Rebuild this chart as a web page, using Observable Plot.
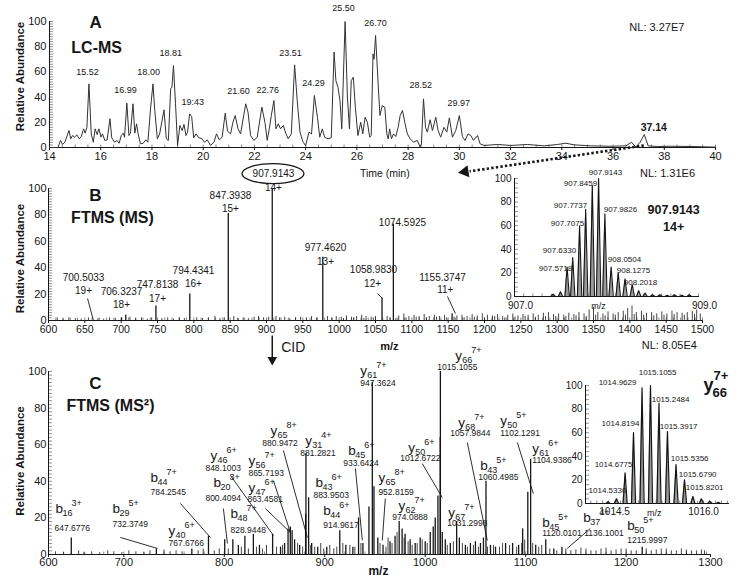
<!DOCTYPE html>
<html><head><meta charset="utf-8">
<script src="https://cdn.jsdelivr.net/npm/d3@7"></script>
<script src="https://cdn.jsdelivr.net/npm/@observablehq/plot@0.6"></script>
<style>
body{margin:0;background:#fff;}
#wrap{position:relative;width:750px;height:581px;overflow:hidden;background:#fff;}
#wrap svg{position:absolute;}
</style></head><body><div id="wrap"></div>
<script>
// ================= DATA =================
// Panel A: LC-MS chromatogram [time (min), relative abundance]
const chromA = [[14.00,0],[14.33,0],[14.43,5.6],[14.51,2.4],[14.60,4.2],[14.76,13.5],[14.83,6.9],[14.90,9.5],[14.98,8.2],[15.07,10],[15.16,6.9],[15.24,8.7],[15.33,14.8],[15.39,11.4],[15.46,16],[15.54,50.5],[15.63,10.8],[15.71,4.2],[15.78,14.8],[15.86,10.3],[15.93,14.8],[16.01,8.2],[16.07,10.8],[16.16,5.6],[16.25,6],[16.36,22.8],[16.43,7.7],[16.54,4.2],[16.64,5.6],[16.72,3.4],[16.80,9.5],[16.88,11.4],[16.93,8.2],[17.02,35.2],[17.10,9.5],[17.16,11.4],[17.26,34.7],[17.33,11.4],[17.40,18.8],[17.46,10.8],[17.55,2.9],[17.66,3.4],[17.76,6.1],[17.84,4.2],[17.95,32],[18.04,50.5],[18.11,29.4],[18.21,6.9],[18.30,10.8],[18.47,29.9],[18.56,6.9],[18.64,5.6],[18.73,46.6],[18.78,47.9],[18.84,65],[18.92,34.7],[19.00,1.6],[19.09,17.5],[19.18,13.5],[19.25,18.3],[19.33,9.5],[19.39,12.2],[19.47,26.7],[19.55,24.6],[19.63,7.7],[19.72,10.8],[19.83,7.7],[19.96,6.9],[20.05,4.2],[20.16,6.1],[20.29,1.6],[20.42,4.2],[20.52,10.8],[20.63,6.1],[20.74,8.2],[20.86,27.2],[20.95,13],[21.07,10.8],[21.16,20],[21.25,25.4],[21.36,14.8],[21.46,10.8],[21.66,34.7],[21.75,28],[21.85,9.5],[21.98,5.6],[22.11,8.2],[22.29,32],[22.41,20],[22.50,5.6],[22.58,14.8],[22.66,25.4],[22.76,37.3],[22.84,14.8],[22.93,18.8],[23.02,14.8],[23.13,17.5],[23.22,11.4],[23.32,6.9],[23.44,10.8],[23.57,65.6],[23.67,37.3],[23.78,12.2],[23.90,4.2],[24.00,1.6],[24.13,12.2],[24.23,10.8],[24.34,41.3],[24.46,24],[24.55,8.2],[24.65,14.8],[24.74,8.2],[24.87,6.9],[25.00,7.7],[25.11,75.7],[25.18,53],[25.26,47.9],[25.34,37.3],[25.41,14.8],[25.54,100],[25.63,40],[25.71,14.8],[25.78,53],[25.86,55.8],[25.94,32],[26.04,9.5],[26.15,20],[26.23,10.8],[26.32,24],[26.41,20],[26.50,8.2],[26.56,9.5],[26.63,74.3],[26.67,70],[26.73,88.9],[26.83,50.5],[26.90,25.4],[26.99,33.3],[27.09,32],[27.17,10.8],[27.22,6.9],[27.28,14.8],[27.35,6.9],[27.43,10.8],[27.52,8.7],[27.61,16],[27.69,25.4],[27.78,29.4],[27.87,20],[27.97,10.8],[28.08,6.9],[28.21,4.2],[28.36,5.6],[28.47,0.3],[28.52,2.9],[28.60,38.6],[28.68,16],[28.75,12.2],[28.86,22],[28.95,13.5],[29.08,24],[29.17,13.5],[29.27,8.2],[29.40,16],[29.51,12.2],[29.61,23.5],[29.73,8.2],[29.86,13.5],[30.00,25.4],[30.12,8.7],[30.22,5.6],[30.34,10.8],[30.45,9.5],[30.55,5.6],[30.71,9.5],[30.81,2.9],[30.97,1.6],[31.49,2.4],[32.01,1.6],[32.66,2.4],[33.31,1.3],[33.83,2.4],[34.16,3.4],[34.48,2.1],[35.13,1.3],[35.92,1],[36.50,1.3],[36.72,4.2],[36.89,0.3],[37.06,4.2],[37.22,10.3],[37.37,1.3],[37.74,0.8],[38.26,1],[39.04,0.8],[40.00,0.3]];
const aTicks = [14,16,18,20,22,24,26,28,30,32,34,36,38,40];
const yTicks = [0,20,40,60,80,100];
const aPeakLabels = [
  {t:"15.52",x:15.48,y:59.5},{t:"16.99",x:16.97,y:45.2},{t:"18.00",x:17.87,y:59.5},{t:"18.81",x:18.73,y:74.6},
  {t:"19:43",x:19.59,y:35.7},{t:"21.60",x:21.38,y:44.4},{t:"22.76",x:22.52,y:45.2},{t:"23.51",x:23.41,y:74.6},
  {t:"24.29",x:24.31,y:50.8},{t:"25.50",x:25.48,y:111},{t:"26.70",x:26.73,y:98.4},{t:"28.52",x:28.49,y:49.2},
  {t:"29.97",x:29.98,y:34.9}
];

// Panel B: FTMS (MS) full scan [m/z, relative abundance]
const msB = [[700.5033,2],[706.3237,4],[747.8138,11],[794.4341,20],[847.3938,81],[907.9143,100],[977.4620,48],[1058.9830,17],[1074.5925,73],[1155.3747,5]];
const noiseB = [[612,2],[620,1],[628,2],[637,1.5],[645,1],[655,2],[668,1.5],[676,1],[684,2],[692,1.5],[712,2.5],[720,1.5],[728,2],[736,1],[742,2],[756,1.5],[764,2],[772,1],[780,2],[787,1.5],[804,2],[812,1.5],[820,2],[829,3],[836,1.5],[842,2],[855,3],[861,1.5],[868,2],[875,1.5],[883,2.5],[889,3],[896,2],[903,2.5],[913,3],[918,2],[925,2.5],[932,1.5],[940,2],[947,2.5],[955,2],[962,3],[969,2],[984,3],[990,2],[996,3],[1003,2.5],[1010,3.5],[1017,2.5],[1024,3],[1031,4],[1037,3],[1044,2.5],[1050,3],[1066,3],[1082,3.5],[1089,5],[1096,3],[1103,4],[1110,3],[1117,4.5],[1124,3],[1131,4],[1138,3],[1145,4],[1162,3.5],[1169,4],[1176,3],[1183,4.5],[1190,3.5],[1197,5],[1204,4],[1211,3.5],[1218,4.5],[1225,3],[1232,4],[1239,5],[1246,3.5],[1253,4.5],[1260,4],[1267,5],[1274,4],[1281,5.5],[1288,6],[1295,4.5],[1302,5],[1309,4],[1316,5.5],[1323,4.5],[1330,6],[1337,5],[1344,8],[1350,10],[1356,6],[1363,5],[1370,6.5],[1377,5],[1384,6],[1391,7],[1397,9],[1403,11],[1409,6],[1416,7],[1423,5.5],[1430,6],[1437,5],[1444,6.5],[1451,5],[1458,7],[1465,6],[1472,5.5],[1479,6],[1486,7],[1492,8],[1497,5],
  [1006,1.5],[1020,2],[1034,1.5],[1047,2],[1070,2],[1078,1.5],[1092,2],[1106,2.5],[1120,2],[1134,2.5],[1148,2],[1158,2.5],[1172,2],[1186,2.5],[1200,2],[1214,3],[1228,2],[1242,2.5],[1256,3],[1270,2.5],[1284,3],[1298,3],[1312,3],[1326,3.5],[1340,3],[1353,4],[1366,3.5],[1380,4],[1394,4],[1406,4.5],[1419,4],[1433,3.5],[1447,4],[1461,4.5],[1475,4],[1489,4.5]];
const bTicks = [600,650,700,750,800,850,900,950,1000,1050,1100,1150,1200,1250,1300,1350,1400,1450,1500];
const bLabels = [
  {t:"700.5033",x:648.2,y:32.6},{t:"19+",x:648.2,y:22.7},
  {t:"706.3237",x:700.5,y:22},{t:"18+",x:700.5,y:12.1},
  {t:"747.8138",x:750,y:27.3},{t:"17+",x:750,y:16.7},
  {t:"794.4341",x:799.5,y:37.9},{t:"16+",x:799.5,y:28},
  {t:"847.3938",x:850.4,y:94.7},{t:"15+",x:850.4,y:84.8},
  {t:"907.9143",x:909.6,y:111.4},{t:"14+",x:909.6,y:100.8},
  {t:"977.4620",x:981.2,y:55.3},{t:"13+",x:981.2,y:44.7},
  {t:"1058.9830",x:1047.2,y:38.6},{t:"12+",x:1046,y:28},
  {t:"1074.5925",x:1087.1,y:74.2},
  {t:"1155.3747",x:1142.2,y:32.6},{t:"11+",x:1146,y:23.5}
];
const bLeaders = [{x1:653.7,y1:16.7,x2:661.9,y2:0},{x1:1052.7,y1:20.5,x2:1058.98,y2:17},{x1:1149,y1:18.2,x2:1160,y2:5.3}];

// Panel B inset: isotope cluster of 907.9143 (14+)
const isoB = [[907.42,2],[907.50,4],[907.5718,25],[907.6330,33],[907.7075,60],[907.7737,74],[907.8459,94],[907.9143,100],[907.9826,70],[908.0504,25],[908.1275,20],[908.2018,15],[908.28,10],[908.35,5],[908.42,3],[908.50,1.5],[908.58,1.5],[908.66,1],[908.74,1.5],[908.82,1],[908.90,1.5]];
const isoBLabels = [{t:"907.9143",x:907.989,y:105},{t:"907.8459",x:907.717,y:95.8},{t:"907.7737",x:907.609,y:77.1},{t:"907.9826",x:908.152,y:73.7},{t:"907.7075",x:907.576,y:61.9},{t:"907.6330",x:907.489,y:39},{t:"907.5718",x:907.446,y:23.7},{t:"908.0504",x:908.196,y:31.4},{t:"908.1275",x:908.293,y:22},{t:"908.2018",x:908.37,y:11.9}];

// Panel C: FTMS (MS2) CID spectrum [m/z, relative abundance]
const msC = [[647.6776,9],[732.3749,3],[767.6766,3],[784.2545,10],[800.4094,8],[808.5,8],[814,5],[820.5,10],[828.9448,11],[835,5],[848.1003,11],[856,4],[860,6],[863.4581,14],[865.7193,15],[867.5,13],[870,8],[875,5],[880.9472,22],[881.2821,55],[883.9503,31],[887,6],[893,4],[902,4],[914.9617,13],[921,5],[928,4],[933.6424,20],[938,6],[944,26],[947.3624,94],[949,37],[952.8159,9],[958,5],[965,7],[970,10],[974.0888,18],[977,14],[980,11],[985,8],[990,6],[995,9],[1000,7],[1005,12],[1008,15],[1010,20],[1012.6722,32],[1014.9629,64],[1015.1055,100],[1017,12],[1020,8],[1025,6],[1031.2998,18],[1034,9],[1040,5],[1045,6],[1050,7],[1055,6],[1057.9844,9],[1060.4985,40],[1065,5],[1070,4],[1080,6],[1087,6],[1093,5],[1097,14],[1102.1291,34],[1104.9386,52],[1110,5],[1120.0101,8],[1128,3],[1136.1001,4],[1215.9997,4]];
const noiseC = [[632,1.5],[640,1],[655,2],[661,1],[668,1.5],[676,1],[684,2],[690,1.5],[698,1],[705,2],[712,1.5],[720,1],[726,2],[740,2.5],[746,1.5],[752,2],[758,1.5],[774,2],[779,3],[790,2],[795,3],[804,3],[817,4],[824,3],[832,4],[838,3],[842,5],[852,4],[858,5],[873,6],[878,4],[886,5],[890,4],[896,6],[899,3],[905,5],[909,3],[912,4],[918,6],[925,5],[930,4],[936,6],[955,6],[961,4],[963,9],[967,6],[972,12],[979,9],[983,7],[987,5],[992,6],[997,8],[1002,6],[1022,5],[1028,7],[1037,6],[1042,4],[1048,5],[1053,4],[1062,4],[1068,5],[1074,4],[1077,6],[1084,5],[1091,4],[1096,6],[1099,8],[1107,6],[1113,4],[1116,5],[1124,3],[1131,2],[1140,3],[1145,2],[1150,2.5],[1155,3.5],[1160,3],[1165,2],[1170,2],[1175,3],[1180,3.5],[1185,2],[1190,2.5],[1195,3],[1200,3],[1205,2],[1210,2],[1220,3],[1225,2],[1230,2.5],[1235,3],[1240,3],[1245,2],[1250,2],[1255,3],[1260,2.5],[1265,2],[1270,2],[1275,2.5],[1278,2]];
const cTicks = [625,700,800,900,1000,1100,1200,1284];
const cTickText = new Map([[625,"600"],[1284,"1300"]]);
const ionsC = [
  {ion:"b",sub:"16",sup:"3+",mz:"647.6776",ix:632.0,iy:25.1,mx:631.0,my:14.2},
  {ion:"b",sub:"29",sup:"5+",mz:"732.3749",ix:688.7,iy:25.1,mx:688.7,my:16.4},
  {ion:"y",sub:"40",sup:"6+",mz:"767.6766",ix:744.4,iy:13.1,mx:744.4,my:6.0},
  {ion:"b",sub:"44",sup:"7+",mz:"784.2545",ix:726.5,iy:42.1,mx:726.5,my:33.9},
  {ion:"b",sub:"20",sup:"3+",mz:"800.4094",ix:789.2,iy:39.3,mx:781.2,my:30.6},
  {ion:"b",sub:"48",sup:"7+",mz:"828.9448",ix:806.1,iy:22.4,mx:806.1,my:13.1},
  {ion:"y",sub:"46",sup:"6+",mz:"848.1003",ix:786.2,iy:54.1,mx:781.2,my:47.0},
  {ion:"y",sub:"56",sup:"7+",mz:"865.7193",ix:824.0,iy:51.4,mx:824.0,my:44.3},
  {ion:"y",sub:"47",sup:"6+",mz:"863.4581",ix:824.0,iy:36.6,mx:823.0,my:30.1},
  {ion:"y",sub:"65",sup:"8+",mz:"880.9472",ix:845.9,iy:67.8,mx:837.9,my:60.7},
  {ion:"y",sub:"31",sup:"4+",mz:"881.2821",ix:880.7,iy:62.3,mx:875.7,my:55.2},
  {ion:"b",sub:"43",sup:"6+",mz:"883.9503",ix:890.7,iy:39.3,mx:888.7,my:32.2},
  {ion:"b",sub:"44",sup:"6+",mz:"914.9617",ix:898.6,iy:24.0,mx:898.6,my:15.8},
  {ion:"b",sub:"45",sup:"6+",mz:"933.6424",ix:923.5,iy:56.8,mx:918.5,my:49.7},
  {ion:"y",sub:"61",sup:"7+",mz:"947.3624",ix:935.4,iy:100.5,mx:935.4,my:93.4},
  {ion:"y",sub:"66",sup:"7+",mz:"1015.1055",ix:1030.0,iy:108.7,mx:1012.1,my:102.5},
  {ion:"y",sub:"65",sup:"8+",mz:"952.8159",ix:953.4,iy:42.1,mx:953.4,my:33.9},
  {ion:"y",sub:"62",sup:"7+",mz:"974.0888",ix:973.3,iy:26.8,mx:967.3,my:20.2},
  {ion:"y",sub:"50",sup:"6+",mz:"1012.6722",ix:983.2,iy:58.5,mx:975.2,my:52.5},
  {ion:"y",sub:"67",sup:"7+",mz:"1031.2998",ix:1023.0,iy:23.0,mx:1022.0,my:16.9},
  {ion:"y",sub:"68",sup:"7+",mz:"1057.9844",ix:1033.0,iy:72.1,mx:1025.0,my:66.1},
  {ion:"y",sub:"50",sup:"5+",mz:"1102.1291",ix:1074.8,iy:73.2,mx:1074.8,my:66.1},
  {ion:"b",sub:"43",sup:"5+",mz:"1060.4985",ix:1054.9,iy:48.6,mx:1052.9,my:42.1},
  {ion:"y",sub:"61",sup:"6+",mz:"1104.9386",ix:1106.6,iy:57.9,mx:1106.6,my:51.4},
  {ion:"b",sub:"45",sup:"5+",mz:"1120.0101",ix:1116.5,iy:17.5,mx:1116.5,my:11.5},
  {ion:"b",sub:"37",sup:"4+",mz:"1136.1001",ix:1157.3,iy:20.2,mx:1158.3,my:11.5},
  {ion:"b",sub:"50",sup:"5+",mz:"1215.9997",ix:1201.1,iy:15.8,mx:1201.1,my:7.7}
];
const cLeaders = [
  {x1:696.6,y1:9.3,x2:733.5,y2:3.3},{x1:756.3,y1:27.9,x2:786.2,y2:9.3},{x1:799.1,y1:25.1,x2:803.1,y2:6.0},
  {x1:806.1,y1:43.2,x2:848.9,y2:10.4},{x1:848.9,y1:40.4,x2:865.8,y2:12},{x1:840.9,y1:25.1,x2:865.8,y2:12},
  {x1:858.8,y1:56.8,x2:882.7,y2:9.3},{x1:930.5,y1:47,x2:937.4,y2:7.7},{x1:960.3,y1:30.6,x2:957.3,y2:7.7},
  {x1:997.1,y1:49.7,x2:1017,y2:31.1},{x1:1041.9,y1:61.2,x2:1061.8,y2:7.7},{x1:1091.7,y1:61.2,x2:1107.6,y2:33.3},
  {x1:1164.3,y1:14.2,x2:1141.4,y2:3.3}
];

// Panel C inset: isotope cluster of y66 (7+)
const isoC = [[1014.39,1.5],[1014.5330,4],[1014.6775,26],[1014.8194,60],[1014.9629,98],[1015.1055,100],[1015.2484,85],[1015.3917,61],[1015.5356,33],[1015.6790,20],[1015.8201,6],[1015.963,4],[1016.106,2],[1016.25,1]];
const isoCLabels = [{t:"1015.1055",x:1015.225,y:111},{t:"1014.9629",x:1014.55,y:102.5},{t:"1015.2484",x:1015.444,y:88},{t:"1014.8194",x:1014.60,y:67.8},{t:"1015.3917",x:1015.58,y:65.3},{t:"1014.6775",x:1014.483,y:33},{t:"1015.5356",x:1015.765,y:38},{t:"1015.6790",x:1015.90,y:24.6},{t:"1015.8201",x:1016.018,y:13.6},{t:"1014.5330",x:1014.38,y:11}];

// ================= DRAWING =================
const SANS = "'Liberation Sans', Arial, Helvetica, sans-serif";
const NARROW = "'Liberation Sans Narrow', 'Arial Narrow', 'Liberation Sans', sans-serif";
const INK = "#161616";
const wrap = document.getElementById("wrap");
function place(svg, left, top) { svg.style.left = left + "px"; svg.style.top = top + "px"; wrap.appendChild(svg); }
function baseStyle() { return {background: "transparent", fontFamily: SANS, fontSize: "11px", color: INK, overflow: "visible"}; }
function profile(peaks, hw, lo, hi) {
  const pts = [[lo, 0]];
  for (const [m, h] of [...peaks].sort((a, b) => a[0] - b[0])) pts.push([m - hw, 0], [m, h], [m + hw, 0]);
  pts.push([hi, 0]);
  return pts;
}
const yMinor = d3.range(0, 101, 2);
function frameAxes(xmin, fw, fh, xMinor, yMinorTicks) {
  return [
    Plot.ruleY(yMinorTicks, {insetRight: fw - 4, stroke: "#666", strokeWidth: 0.7}),
    Plot.ruleX(xMinor, {insetTop: fh - 2.5, stroke: "#555", strokeWidth: 0.7}),
    Plot.ruleX([xmin], {stroke: INK, strokeWidth: 1}),
    Plot.ruleY([0], {stroke: INK, strokeWidth: 1})
  ];
}
function relAb(dx, dy) {
  return Plot.text(["Relative Abundance"], {frameAnchor: "left", textAnchor: "middle", rotate: -90, dx, dy, fontWeight: "bold", fontSize: 11.5});
}

// ---- Panel A ----
{
  const W = 750, H = 185, ml = 49, mr = 35, mt = 21, mb = 38;
  const fw = W - ml - mr, fh = H - mt - mb;
  const p = Plot.plot({
    width: W, height: H, marginLeft: ml, marginRight: mr, marginTop: mt, marginBottom: mb,
    style: baseStyle(),
    x: {domain: [14, 40]}, y: {domain: [0, 100]},
    marks: [
      ...frameAxes(14, fw, fh, d3.range(14, 40.01, 0.5), yMinor),
      Plot.axisY({ticks: yTicks, tickSize: 0, tickPadding: 3, label: null, fontSize: 11}),
      Plot.axisX({ticks: aTicks, tickSize: 3, tickPadding: 2, label: null, fontSize: 11}),
      Plot.line(chromA, {x: d => d[0], y: d => d[1], stroke: "#333", strokeWidth: 1}),
      Plot.text(aPeakLabels, {x: "x", y: "y", text: "t", fontSize: 9}),
      Plot.text(["37.14"], {x: 37.59, y: 15.9, fontSize: 10.5, fontWeight: "bold"}),
      Plot.text(["NL: 3.27E7"], {x: 37.71, y: 95.2, fontSize: 11}),
      Plot.text(["A"], {x: 15.8, y: 99.2, fontSize: 17, fontWeight: "bold"}),
      Plot.text(["LC-MS"], {x: 15.84, y: 79.4, fontSize: 16, fontWeight: "bold"}),
      Plot.text(["Time (min)"], {x: 27.09, y: -20.6, fontSize: 10.5}),
      relAb(-29, -8),
      Plot.link([{x1: 37.2, y1: 1.6, x2: 30.4, y2: -18.9}], {x1: "x1", y1: "y1", x2: "x2", y2: "y2", stroke: INK, strokeWidth: 2.6, strokeDasharray: "2.4,2.2"}),
      Plot.dot([{x: 30.22, y: -19.2}], {x: "x", y: "y", symbol: "triangle", r: 4.5, fill: INK, stroke: "none", rotate: 261})
    ]
  });
  place(p, 0, 0);
}

// ---- Panel B ----
{
  const W = 750, H = 220, ml = 48, mr = 48, mt = 38, mb = 50;
  const fw = W - ml - mr, fh = H - mt - mb;
  const p = Plot.plot({
    width: W, height: H, marginLeft: ml, marginRight: mr, marginTop: mt, marginBottom: mb,
    style: baseStyle(),
    x: {domain: [600, 1500]}, y: {domain: [0, 100]},
    marks: [
      ...frameAxes(600, fw, fh, d3.range(600, 1500.1, 10), yMinor),
      Plot.axisY({ticks: yTicks, tickSize: 0, tickPadding: 2, label: null, fontSize: 11}),
      Plot.axisX({ticks: bTicks, tickFormat: d => String(d), tickSize: 3, tickPadding: 2, label: null, fontSize: 10.5}),
      Plot.ruleX(noiseB, {x: d => d[0], y1: 0, y2: d => d[1], stroke: INK, strokeWidth: 0.8}),
      Plot.ruleX(msB, {x: d => d[0], y1: 0, y2: d => d[1], stroke: INK, strokeWidth: 1.3}),
      Plot.link(bLeaders, {x1: "x1", y1: "y1", x2: "x2", y2: "y2", stroke: INK, strokeWidth: 0.9}),
      Plot.text(bLabels, {x: "x", y: "y", text: "t", fontSize: 10}),
      Plot.text(["NL: 1.31E6"], {x: 1451.8, y: 111.4, fontSize: 11}),
      Plot.text(["B"], {x: 664.7, y: 94.7, fontSize: 17, fontWeight: "bold"}),
      Plot.text(["FTMS (MS)"], {x: 688, y: 78, fontSize: 16, fontWeight: "bold"}),
      Plot.text(["m/z"], {x: 1069, y: -19.7, fontSize: 11, fontWeight: "bold"}),
      relAb(-28, 4),
      Plot.link([{x1: 907.9143, y1: -11.4, x2: 907.9143, y2: -29}], {x1: "x1", y1: "y1", x2: "x2", y2: "y2", stroke: INK, strokeWidth: 1.5}),
      Plot.dot([{x: 907.9143, y: -29.8}], {x: "x", y: "y", symbol: "triangle", r: 3.6, fill: INK, stroke: "none", rotate: 180}),
      Plot.text(["CID"], {x: 907.9143, y: -20.5, dx: 9, textAnchor: "start", fontSize: 14})
    ]
  });
  const sx = p.scale("x"), sy = p.scale("y");
  d3.select(p).append("ellipse")
    .attr("cx", sx.apply(909.6)).attr("cy", sy.apply(110.9))
    .attr("rx", 31).attr("ry", 10).attr("fill", "none").attr("stroke", INK).attr("stroke-width", 1.3);
  place(p, 0, 150);
}

// ---- Panel B inset ----
{
  const W = 240, H = 160, ml = 34, mr = 22, mt = 18, mb = 24;
  const fw = W - ml - mr, fh = H - mt - mb;
  const prof = profile(isoB, 0.024, 907.3, 909);
  const p = Plot.plot({
    width: W, height: H, marginLeft: ml, marginRight: mr, marginTop: mt, marginBottom: mb,
    style: baseStyle(),
    x: {domain: [907, 909]}, y: {domain: [0, 100]},
    marks: [
      ...frameAxes(907, fw, fh, d3.range(907, 909.001, 0.1), d3.range(0, 101, 4)),
      Plot.axisY({ticks: yTicks, tickSize: 0, tickPadding: 3, label: null, fontSize: 10}),
      Plot.axisX({ticks: [907, 909], tickFormat: d3.format(".1f"), tickSize: 0, tickPadding: 5, dx: 6, label: null, fontSize: 10}),
      Plot.areaY(prof, {x: d => d[0], y: d => d[1], fill: "#9a9a9a"}),
      Plot.line(prof, {x: d => d[0], y: d => d[1], stroke: INK, strokeWidth: 1.1}),
      Plot.text(isoBLabels, {x: "x", y: "y", text: "t", fontSize: 8}),
      Plot.text(["907.9143"], {x: 908.73, y: 73.7, fontSize: 12.5, fontWeight: "bold"}),
      Plot.text(["14+"], {x: 908.73, y: 59.3, fontSize: 12.5, fontWeight: "bold"}),
      Plot.text(["m/z"], {x: 907.913, y: -8.5, fontSize: 9})
    ]
  });
  place(p, 480, 160);
}

// ---- Panel C ----
{
  const W = 750, H = 251, ml = 48, mr = 40, mt = 41, mb = 27;
  const fw = W - ml - mr, fh = H - mt - mb;
  const ionFont = {fontFamily: NARROW, textAnchor: "start"};
  const p = Plot.plot({
    width: W, height: H, marginLeft: ml, marginRight: mr, marginTop: mt, marginBottom: mb,
    style: baseStyle(),
    x: {domain: [625, 1284]}, y: {domain: [0, 100]},
    marks: [
      ...frameAxes(625, fw, fh, d3.range(640, 1284, 20), yMinor),
      Plot.axisY({ticks: yTicks, tickSize: 0, tickPadding: 2, label: null, fontSize: 11}),
      Plot.axisX({ticks: cTicks, tickFormat: d => cTickText.get(d) ?? String(d), tickSize: 3, tickPadding: 1, label: null, fontSize: 11}),
      Plot.ruleX(noiseC, {x: d => d[0], y1: 0, y2: d => d[1], stroke: INK, strokeWidth: 0.8}),
      Plot.ruleX(msC, {x: d => d[0], y1: 0, y2: d => d[1], stroke: INK, strokeWidth: 1.3}),
      Plot.link(cLeaders, {x1: "x1", y1: "y1", x2: "x2", y2: "y2", stroke: INK, strokeWidth: 0.9}),
      Plot.text(ionsC, {x: "ix", y: "iy", text: "ion", fontSize: 13.5, ...ionFont}),
      Plot.text(ionsC, {x: "ix", y: "iy", text: "sub", fontSize: 9, dx: 7, dy: 5, ...ionFont}),
      Plot.text(ionsC, {x: "ix", y: "iy", text: "sup", fontSize: 9, dx: 16, dy: -5, ...ionFont}),
      Plot.text(ionsC, {x: "mx", y: "my", text: "mz", fontSize: 8.5, ...ionFont}),
      Plot.text(["NL: 8.05E4"], {x: 1243, y: 114.2, fontSize: 11}),
      Plot.text(["C"], {x: 671.8, y: 93.4, fontSize: 17, fontWeight: "bold"}),
      Plot.text(["FTMS (MS²)"], {x: 686.7, y: 81.4, fontSize: 16, fontWeight: "bold"}),
      Plot.text(["m/z"], {x: 953.4, y: -9.3, fontSize: 12, fontWeight: "bold"}),
      relAb(-28, -2)
    ]
  });
  place(p, 0, 330);
}

// ---- Panel C inset ----
{
  const W = 200, H = 180, ml = 35, mr = 22, mt = 35, mb = 27;
  const fw = W - ml - mr, fh = H - mt - mb;
  const prof = profile(isoC, 0.035, 1014.01, 1016.42);
  const p = Plot.plot({
    width: W, height: H, marginLeft: ml, marginRight: mr, marginTop: mt, marginBottom: mb,
    style: baseStyle(),
    x: {domain: [1014.01, 1016.42]}, y: {domain: [0, 100]},
    marks: [
      ...frameAxes(1014.01, fw, fh, d3.range(1014.1, 1016.42, 0.1), d3.range(0, 101, 4)),
      Plot.axisY({ticks: yTicks, tickSize: 0, tickPadding: 3, label: null, fontSize: 10}),
      Plot.axisX({ticks: [1014.5, 1016.0], tickFormat: d3.format(".1f"), tickSize: 0, tickPadding: 4, label: null, fontSize: 10}),
      Plot.areaY(prof, {x: d => d[0], y: d => d[1], fill: "#9a9a9a"}),
      Plot.line(prof, {x: d => d[0], y: d => d[1], stroke: INK, strokeWidth: 1.2}),
      Plot.text(isoCLabels, {x: "x", y: "y", text: "t", fontSize: 8}),
      Plot.text(["m/z"], {x: 1015.17, y: -8.5, fontSize: 9}),
      Plot.text(["y"], {x: 1016.0, y: 100, textAnchor: "start", fontSize: 18, fontWeight: "bold"}),
      Plot.text(["66"], {x: 1016.0, y: 100, dx: 9, dy: 7, textAnchor: "start", fontSize: 13, fontWeight: "bold"}),
      Plot.text(["7+"], {x: 1016.0, y: 100, dx: 10, dy: -10, textAnchor: "start", fontSize: 13, fontWeight: "bold"})
    ]
  });
  place(p, 550, 350);
}
</script></body></html>
